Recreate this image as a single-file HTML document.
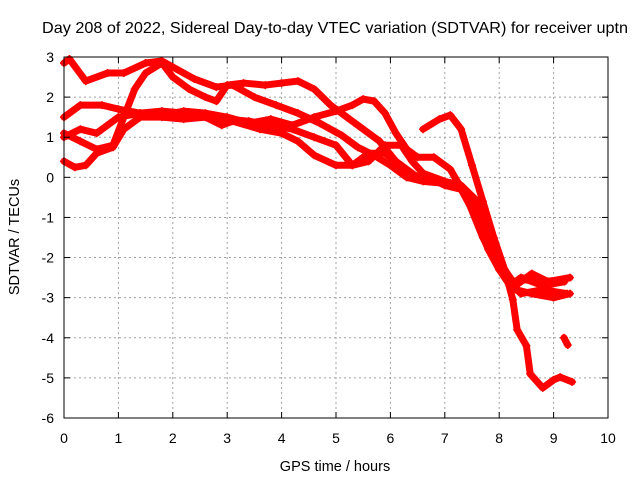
<!DOCTYPE html>
<html><head><meta charset="utf-8"><style>
body{margin:0;background:#fff}
svg{display:block;font-family:"Liberation Sans",sans-serif}
</style></head><body>
<svg id="c" width="640" height="480">
<text x="42" y="33" font-size="16" textLength="586" lengthAdjust="spacingAndGlyphs">Day 208 of 2022, Sidereal Day-to-day VTEC variation (SDTVAR) for receiver uptn</text>
<text x="335" y="471" font-size="14.5" text-anchor="middle">GPS time / hours</text>
<text x="0" y="0" font-size="14.5" text-anchor="middle" transform="translate(19,237) rotate(-90)">SDTVAR / TECUs</text>
<g id="grid"></g><g id="series"></g><g id="axes"></g>
</svg>
<script>
const xTicks=[0,1,2,3,4,5,6,7,8,9,10];
const yTicks=[3,2,1,0,-1,-2,-3,-4,-5,-6];
const track1H=[0,0.1,0.4,0.8,1.1,1.5,1.8,2.0,2.4,2.8,3.1,3.5,3.9,4.3,4.7,5.1,5.4,5.7,6.0,6.3,6.6,7.0,7.3,7.6,7.8,8.0,8.2,8.5,8.8,9.2];
const track1V=[2.85,2.95,2.4,2.6,2.6,2.85,2.9,2.75,2.45,2.25,2.3,2.0,1.8,1.6,1.35,1.05,0.75,0.55,0.3,0.0,-0.1,-0.15,-0.2,-0.6,-1.4,-2.2,-2.6,-2.55,-2.7,-2.6];
const track2H=[0,0.3,0.6,0.9,1.1,1.3,1.5,1.8,2.0,2.3,2.6,2.8,3.0,3.3,3.7,4.0,4.3,4.6,4.9,5.2,5.5,5.8,6.1,6.4,6.7,7.0,7.3,7.5,7.8,8.0,8.2,8.4,8.8,9.2];
const track2V=[1.1,0.9,0.7,0.8,1.5,2.2,2.6,2.85,2.5,2.2,2.0,1.9,2.3,2.35,2.3,2.35,2.4,2.2,1.8,1.5,1.2,0.9,0.4,0.05,0.0,-0.2,-0.3,-0.8,-1.8,-2.3,-2.7,-2.5,-2.6,-2.55];
const track3H=[0,0.3,0.7,1.0,1.4,1.8,2.2,2.6,3.0,3.4,3.8,4.2,4.6,5.0,5.3,5.6,5.9,6.2,6.4,6.6,7.0,7.3,7.6,7.9,8.1,8.4,8.8,9.25];
const track3V=[1.5,1.8,1.8,1.7,1.6,1.65,1.6,1.5,1.45,1.4,1.3,1.2,1.0,0.8,0.3,0.4,0.8,0.8,0.4,0.1,-0.1,-0.2,-0.9,-1.9,-2.5,-2.9,-2.8,-2.9];
const track4H=[0,0.3,0.6,1.0,1.4,1.8,2.2,2.6,3.0,3.4,3.8,4.2,4.6,5.0,5.3,5.5,5.7,5.9,6.1,6.3,6.5,6.8,7.1,7.4,7.7,8.0,8.3,8.6,9.0,9.3];
const track4V=[1.0,1.2,1.1,1.5,1.6,1.55,1.65,1.6,1.5,1.35,1.45,1.3,1.5,1.65,1.8,1.95,1.9,1.6,1.1,0.7,0.5,0.5,0.2,-0.5,-1.5,-2.3,-2.8,-2.9,-3.0,-2.9];
const track5H=[0,0.2,0.4,0.6,0.9,1.1,1.4,1.8,2.2,2.6,2.9,3.1,3.6,4.0,4.3,4.6,5.0,5.3,5.6,5.9,6.2,6.5,6.8,7.1];
const track5V=[0.4,0.25,0.3,0.6,0.75,1.2,1.5,1.5,1.45,1.5,1.3,1.4,1.2,1.1,0.9,0.55,0.3,0.3,0.6,0.6,0.3,0.0,-0.1,-0.15];
const track6H=[6.6,6.9,7.1,7.3,7.5,7.7,7.9,8.1,8.3,8.6,8.9,9.3];
const track6V=[1.2,1.45,1.55,1.2,0.3,-0.6,-1.5,-2.3,-2.7,-2.4,-2.6,-2.5];
const track7H=[8.1,8.25,8.33,8.5,8.57,8.8,9.0,9.12,9.34];
const track7V=[-2.3,-3.05,-3.8,-4.2,-4.9,-5.25,-5.05,-4.98,-5.1];
const track8H=[9.19,9.26];
const track8V=[-4.0,-4.18];
const tracks=[[track1H,track1V],[track2H,track2V],[track3H,track3V],[track4H,track4V],[track5H,track5V],[track6H,track6V],[track7H,track7V],[track8H,track8V]];

const L=64,R=608,T=57,B=418;
const xs=h=>L+(h-0)/(10-0)*(R-L);
const ys=v=>T+(3-v)/(3-(-6))*(B-T);
const NS='http://www.w3.org/2000/svg';
function mk(tag,attrs,parent){const e=document.createElementNS(NS,tag);for(const k in attrs)e.setAttribute(k,attrs[k]);parent.appendChild(e);return e;}
const grid=document.getElementById('grid'),axes=document.getElementById('axes'),ser=document.getElementById('series');
xTicks.forEach(t=>{const x=xs(t);
 if(t>0&&t<10){const g=mk('line',{x1:x,x2:x,y1:T,y2:B,stroke:'#a0a0a0','stroke-dasharray':'2,3'},grid);
 
 }
 mk('line',{x1:x,x2:x,y1:B,y2:B-6,stroke:'#000'},axes);mk('line',{x1:x,x2:x,y1:T,y2:T+6,stroke:'#000'},axes);
 const tx=mk('text',{x:x,y:B+25,'font-size':'14','text-anchor':'middle'},axes);tx.textContent=t;
 
 
});
yTicks.forEach(t=>{const y=ys(t);
 if(t<3&&t>-6){const g=mk('line',{x1:L,x2:R,y1:y,y2:y,stroke:'#a0a0a0','stroke-dasharray':'2,3'},grid);
 
 }
 mk('line',{x1:L,x2:L+6,y1:y,y2:y,stroke:'#000'},axes);mk('line',{x1:R,x2:R-6,y1:y,y2:y,stroke:'#000'},axes);
 const tx=mk('text',{x:L-10,y:y+5,'font-size':'14','text-anchor':'end'},axes);tx.textContent=t;
 
 
});
const fr=mk('rect',{x:L,y:T,width:R-L,height:B-T,fill:'none',stroke:'#000','stroke-width':1},axes);


tracks.forEach((tr,i)=>{
 const pts=tr[0].map((h,j)=>xs(h)+','+ys(tr[1][j])).join(' ');
 const pl=mk('polyline',{points:pts,fill:'none',stroke:'#ff0000','stroke-width':7,'stroke-linejoin':'round','stroke-linecap':'round'},ser);
 
 
 tr[0].forEach((h,j)=>{const x=xs(h),y=ys(tr[1][j]);
  const p=mk('path',{d:`M${x-4},${y}H${x+4}M${x},${y-4}V${y+4}`,stroke:'#ff0000','stroke-width':1.5},ser);
  
  
 });
});
</script>
</body></html>
